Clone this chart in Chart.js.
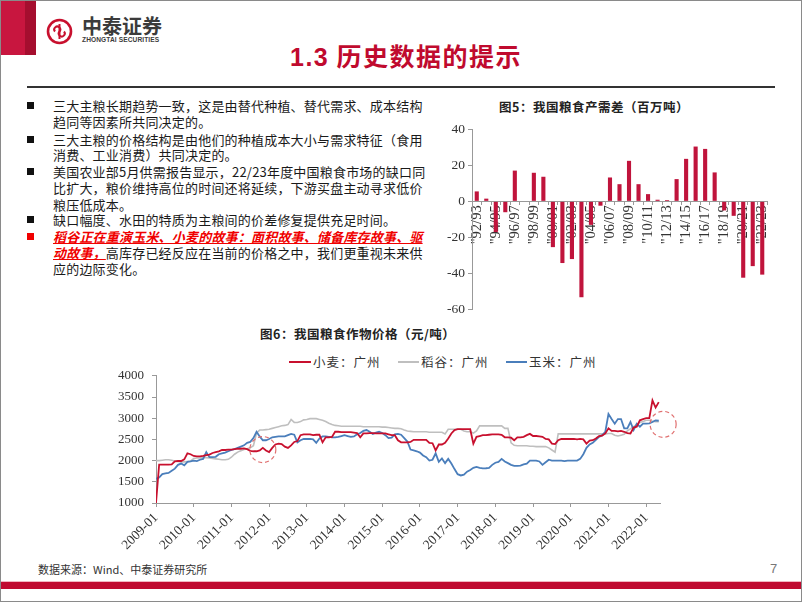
<!DOCTYPE html>
<html><head><meta charset="utf-8">
<script src="https://cdn.jsdelivr.net/npm/chart.js@4.4.1/dist/chart.umd.min.js"></script>
<style>
html,body{margin:0;padding:0;background:#fff;}
#slide{position:relative;width:802px;height:602px;overflow:hidden;font-family:'Noto Sans CJK SC','Noto Sans',sans-serif;color:#222;}
#frame{position:absolute;left:0;top:0;width:802px;height:602px;box-sizing:border-box;border:1px solid #8a8a8a;pointer-events:none;}
.abs{position:absolute;white-space:nowrap;}
.line{position:absolute;left:53px;font-size:13px;line-height:16px;letter-spacing:0.2px;white-space:nowrap;color:#1a1a1a;}
.sq{position:absolute;left:27px;width:7px;height:7px;background:#111;}
.red{color:#f00000;font-style:italic;text-decoration:underline;font-weight:bold;}
.lg{position:absolute;top:361px;height:2px;}
.lgt{position:absolute;top:353px;font-size:12.5px;line-height:17px;color:#333;letter-spacing:1px;}
canvas{position:absolute;}
</style></head><body>
<div id="slide">
  <div class="abs" style="left:0;top:0;width:25px;height:55px;background:#c8163f;"></div>
  <div class="abs" style="left:25px;top:0;width:11px;height:55px;background:#a50e2f;"></div>
  <svg class="abs" style="left:46px;top:18px;" width="27" height="27" viewBox="0 0 27 27">
    <circle cx="13.5" cy="13.5" r="11.5" fill="none" stroke="#c8102e" stroke-width="2.6"/>
    <path d="M9 13.5a3 3 0 1 1 4.5 0a3 3 0 1 0 4.5 0" fill="none" stroke="#c8102e" stroke-width="2"/>
    <line x1="13.5" y1="6" x2="13.5" y2="21" stroke="#c8102e" stroke-width="2"/>
  </svg>
  <div class="abs" style="left:82px;top:14px;font-size:20px;line-height:24px;font-weight:bold;color:#3b3b3b;">中泰证券</div>
  <div class="abs" style="left:82px;top:36px;font-size:6.6px;line-height:8px;font-weight:bold;color:#3b3b3b;font-family:'Liberation Sans',Arial,sans-serif;letter-spacing:0.1px;">ZHONGTAI SECURITIES</div>
  <div class="abs" style="left:290px;top:40px;font-size:25px;line-height:30px;font-weight:bold;color:#c00a2e;letter-spacing:1.5px;"><span style="font-family:'Liberation Sans',Arial,sans-serif;">1.3</span> 历史数据的提示</div>
  <div class="abs" style="left:27px;top:86px;width:748px;height:1.5px;background:#333;"></div>

  <div class="sq" style="top:102px;"></div>
  <div class="line" style="top:98px;">三大主粮长期趋势一致，这是由替代种植、替代需求、成本结构</div>
  <div class="line" style="top:114px;">趋同等因素所共同决定的。</div>
  <div class="sq" style="top:136px;"></div>
  <div class="line" style="top:132px;">三大主粮的价格结构是由他们的种植成本大小与需求特征（食用</div>
  <div class="line" style="top:147px;">消费、工业消费）共同决定的。</div>
  <div class="sq" style="top:168px;"></div>
  <div class="line" style="top:164px;">美国农业部5月供需报告显示，22/23年度中国粮食市场的缺口同</div>
  <div class="line" style="top:180px;">比扩大，粮价维持高位的时间还将延续，下游买盘主动寻求低价</div>
  <div class="line" style="top:197px;">粮压低成本。</div>
  <div class="sq" style="top:216px;"></div>
  <div class="line" style="top:212px;">缺口幅度、水田的特质为主粮间的价差修复提供充足时间。</div>
  <div class="sq" style="top:233px;background:#f00000;"></div>
  <div class="line" style="top:229px;"><span class="red">稻谷正在重演玉米、小麦的故事：面积故事、储备库存故事、驱</span></div>
  <div class="line" style="top:245px;"><span class="red">动故事，</span>高库存已经反应在当前的价格之中，我们更重视未来供</div>
  <div class="line" style="top:261px;">应的边际变化。</div>

  <div class="abs" style="left:499px;top:98px;font-size:12.5px;line-height:17px;font-weight:bold;color:#222;letter-spacing:0.5px;">图5：我国粮食产需差（百万吨）</div>
  <canvas id="bar" width="362" height="206" style="left:428px;top:115px;width:362px;height:206px;"></canvas>

  <div class="abs" style="left:260px;top:325px;font-size:12.5px;line-height:17px;font-weight:bold;color:#222;letter-spacing:0.5px;">图6：我国粮食作物价格（元/吨）</div>
  <div class="lg" style="left:289px;width:22px;background:#c8102e;"></div>
  <div class="lgt" style="left:313px;">小麦：广州</div>
  <div class="lg" style="left:398px;width:21px;background:#bfbfbf;"></div>
  <div class="lgt" style="left:421px;">稻谷：广州</div>
  <div class="lg" style="left:506px;width:21px;background:#4a7ebb;"></div>
  <div class="lgt" style="left:529px;">玉米：广州</div>
  <canvas id="line" width="580" height="200" style="left:100px;top:360px;width:580px;height:200px;"></canvas>

  <div class="abs" style="left:38px;top:562px;font-size:11px;line-height:15px;color:#333;">数据来源：Wind、中泰证券研究所</div>
  <div class="abs" style="left:770px;top:561px;font-size:13px;line-height:16px;color:#777;font-family:'Liberation Sans',sans-serif;">7</div>
  <div class="abs" style="left:0;top:581px;width:802px;height:1px;background:#f2b6c2;"></div>
  <div class="abs" style="left:0;top:582px;width:802px;height:7px;background:#c00a30;"></div>
  <div id="frame"></div>
</div>
<script>
// ---- Figure 5: grain production-demand gap (million tonnes) ----
const seasons = ['"92/93','"93/94','"94/95','"95/96','"96/97','"97/98','"98/99','"99/00','"00/01','"01/02','"02/03','"03/04','"04/05','"05/06','"06/07','"07/08','"08/09','"09/10','"10/11','"11/12','"12/13','"13/14','"14/15','"15/16','"16/17','"17/18','"18/19','"19/20','"20/21','"21/22','"22/23'];
const gap = [5.5,1.5,-17,-6,17,0,15.8,13.6,-25.3,-34.1,-31.9,-53,-13,-2.4,13.2,9.5,22.4,9.5,4,0.9,0.7,12.3,23.5,30.3,29,16,-5,-8,-42.2,-35.8,-40.5];

// ---- Figure 6: grain prices, Guangzhou (yuan/tonne), monthly from 2009-01 ----
const yearTicks = ['2009-01','2010-01','2011-01','2012-01','2013-01','2014-01','2015-01','2016-01','2017-01','2018-01','2019-01','2020-01','2021-01','2022-01'];
const wheat = [
 1000,1905,1905,1905,1905,1910,1980,1990,1990,2030,2170,2150,
 2110,2100,2100,2110,2130,2140,2180,2200,2220,2250,2250,2260,
 2260,2270,2280,2280,2290,2270,2230,2220,2220,2240,2300,2240,
 2200,2300,2380,2400,2390,2330,2300,2360,2440,2460,2600,2620,
 2620,2620,2600,2610,2610,2430,2550,2550,2560,2680,2680,2670,
 2670,2670,2670,2660,2650,2550,2640,2640,2650,2650,2640,2640,
 2640,2640,2620,2600,2600,2480,2430,2430,2430,2440,2490,2490,
 2490,2490,2490,2420,2410,2240,2380,2380,2420,2520,2640,2720,
 2740,2740,2740,2740,2740,2400,2560,2580,2600,2600,2610,2620,
 2620,2620,2610,2550,2550,2540,2480,2550,2550,2560,2600,2630,
 2580,2580,2570,2560,2510,2500,2400,2390,2480,2510,2510,2510,
 2510,2510,2500,2510,2500,2400,2470,2480,2520,2580,2590,2640,
 2760,2700,2700,2690,2700,2680,2650,2640,2780,2800,2950,2980,
 3000,3000,3420,3250,3380];
const rice = [
 2000,2000,2010,2020,2020,2010,1990,1980,1970,1970,1980,1990,
 2050,2060,2060,2070,2070,2060,2050,2040,2030,2020,2020,2030,
 2080,2150,2200,2230,2260,2280,2300,2350,2650,2720,2720,2730,
 2740,2760,2780,2800,2820,2830,2850,2970,2900,2900,2920,2960,
 2970,2990,2990,2990,2970,2950,2920,2880,2850,2830,2820,2810,
 2810,2810,2810,2810,2810,2810,2800,2800,2800,2800,2800,2800,
 2790,2790,2780,2770,2760,2760,2750,2720,2700,2690,2680,2680,
 2680,2680,2680,2670,2670,2670,2670,2670,2630,2740,2740,2740,
 2740,2740,2700,2680,2680,2650,2700,2820,2820,2820,2820,2820,
 2820,2820,2820,2760,2760,2420,2360,2350,2350,2350,2350,2340,
 2340,2330,2330,2330,2330,2300,2250,2200,2630,2630,2630,2630,
 2630,2630,2630,2630,2630,2630,2630,2630,2630,2630,2630,2630,
 2640,2640,2600,2580,2600,2620,2700,2750,2800,2850,2900,2920,
 2950,2950,2930,2920,2920];
const corn = [
 1570,1600,1680,1700,1710,1760,1810,1900,1930,1890,1970,1980,
 2000,1990,2020,2040,2200,2080,2080,2090,2150,2170,2190,2220,
 2250,2270,2300,2330,2360,2420,2440,2530,2680,2570,2480,2480,
 2510,2550,2560,2570,2570,2570,2600,2630,2610,2430,2480,2510,
 2510,2510,2500,2420,2520,2570,2570,2560,2550,2550,2560,2580,
 2600,2580,2560,2570,2620,2650,2700,2720,2680,2630,2660,2680,
 2650,2600,2530,2540,2620,2630,2610,2530,2450,2260,2240,2220,
 2190,2120,2080,2000,2020,2170,1970,2050,1940,2040,1930,1800,
 1680,1650,1670,1740,1780,1830,1850,1830,1815,1820,1830,1900,
 1950,1970,2040,1980,1940,1900,1875,1875,1880,1910,1930,2000,
 2000,2000,1980,1900,1960,2020,2000,2000,2000,2000,1990,2000,
 2000,2000,2000,2040,2150,2300,2380,2420,2490,2560,2600,2680,
 3100,2980,2870,2980,2980,2760,2760,2910,2720,2870,2800,2870,
 2870,2880,2910,2950,2940];
// highlighted regions (dashed circles), in data units: month index, price
const highlights = [{x:34, y:2260, r:13},{x:161.4, y:2855, r:13}];

const serif = "'Liberation Serif','Times New Roman',serif";
const tickFont = {family: serif, size: 13};

new Chart(document.getElementById('bar'), {
  type: 'bar',
  data: {labels: seasons, datasets: [{data: gap, backgroundColor: '#c0143c', categoryPercentage: 0.9, barPercentage: 0.48}]},
  options: {
    responsive: false, animation: false, devicePixelRatio: 1,
    layout: {padding: {top: 14, right: 23, bottom: 10, left: 0}},
    plugins: {legend: {display: false}, tooltip: {enabled: false}},
    scales: {
      x: {
        position: {y: 0},
        grid: {drawOnChartArea: false, drawTicks: true, tickLength: 3, color: '#999'},
        border: {color: '#999'},
        ticks: {autoSkip: false, minRotation: 90, maxRotation: 90, padding: 1, color: '#333', font: {family: serif, size: 14.5},
          callback: function(v, i){ return i % 2 === 0 ? this.getLabelForValue(v) : ''; }},
        afterFit: s => { s.height = 0; }
      },
      y: {
        min: -60, max: 40,
        ticks: {stepSize: 20, color: '#333', font: {family: serif, size: 13.5}, padding: 3, callback: v => String(v)},
        grid: {drawOnChartArea: false, tickLength: 4, color: '#999'},
        border: {color: '#999'},
        afterFit: s => { s.width = 44; }
      }
    }
  }
});

const circles = {
  id: 'circles',
  afterDatasetsDraw(chart) {
    const {ctx, scales: {x, y}} = chart;
    ctx.save();
    ctx.setLineDash([4, 3]);
    ctx.strokeStyle = '#e07070';
    ctx.lineWidth = 1.2;
    highlights.forEach(c => {
      ctx.beginPath();
      ctx.arc(x.getPixelForValue(c.x), y.getPixelForValue(c.y), c.r, 0, Math.PI * 2);
      ctx.stroke();
    });
    ctx.restore();
  }
};
const toXY = arr => arr.map((v, i) => ({x: i, y: v}));

new Chart(document.getElementById('line'), {
  type: 'line',
  data: {datasets: [
    {label: '小麦：广州', data: toXY(wheat), borderColor: '#c8102e', borderWidth: 1.8, order: 0},
    {label: '稻谷：广州', data: toXY(rice), borderColor: '#bfbfbf', borderWidth: 1.6, order: 2},
    {label: '玉米：广州', data: toXY(corn), borderColor: '#4a7ebb', borderWidth: 1.8, order: 1}
  ]},
  options: {
    responsive: false, animation: false, devicePixelRatio: 1,
    elements: {point: {radius: 0}, line: {tension: 0}},
    layout: {padding: {top: 10, right: 20, bottom: 0, left: 0}},
    plugins: {legend: {display: false}, tooltip: {enabled: false}},
    scales: {
      x: {
        type: 'linear', min: 0, max: 160.4,
        ticks: {stepSize: 12, includeBounds: false, autoSkip: false, minRotation: 45, maxRotation: 45, padding: 3, color: '#333', font: {family: serif, size: 13.5},
          callback: v => yearTicks[Math.round(v / 12)]},
        grid: {drawOnChartArea: false, tickLength: 4, color: '#999'},
        border: {color: '#999'},
        afterFit: s => { s.height = 57; }
      },
      y: {
        min: 1000, max: 4000,
        ticks: {stepSize: 500, color: '#333', font: tickFont, padding: 8, callback: v => String(v)},
        grid: {drawOnChartArea: false, tickLength: 4, color: '#999'},
        border: {color: '#999'},
        afterFit: s => { s.width = 56; }
      }
    }
  },
  plugins: [circles]
});
</script>
</body></html>
